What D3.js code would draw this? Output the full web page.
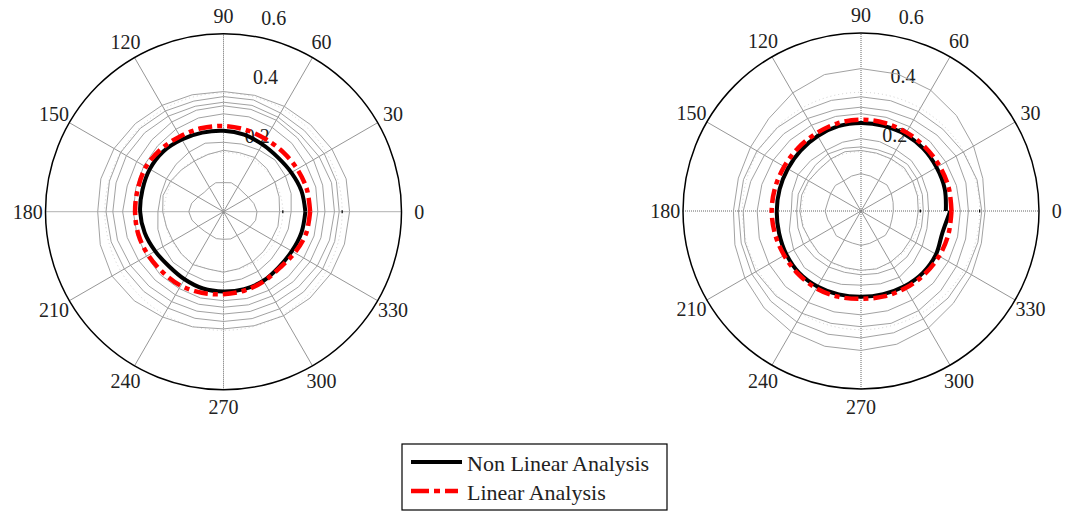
<!DOCTYPE html>
<html>
<head>
<meta charset="utf-8">
<script src="https://cdn.jsdelivr.net/npm/d3@7"></script>
<style>
  body { margin: 0; background: #fff; }
  svg text { font-family: "Liberation Serif", "DejaVu Serif", serif; fill: #222; }
</style>
</head>
<body>
<script>
// polar angles in degrees, counter-clockwise from east
var angles = [0,15,30,45,60,75,90,105,120,135,150,165,180,195,210,225,240,255,270,285,300,315,330,345];
var angleLabels = [0,30,60,90,120,150,180,210,240,270,300,330];
var ringValues = [0.2, 0.4, 0.6];

// left panel
var leftNonLinear = [.276,.272,.264,.259,.262,.269,.273,.276,.281,.287,.287,.283,.281,.275,.266,.26,.263,.268,.269,.27,.269,.264,.266,.272];
var leftLinear = [.292,.291,.287,.284,.283,.286,.289,.291,.293,.298,.302,.299,.298,.297,.293,.289,.288,.283,.278,.275,.271,.268,.277,.288];
var leftGray1 = [.113,.106,.097,.093,.096,.101,.098,.101,.095,.092,.099,.111,.117,.11,.098,.092,.09,.094,.093,.095,.092,.096,.103,.112];
var leftGray2 = [.189,.194,.2,.206,.211,.206,.207,.2,.197,.2,.206,.211,.205,.199,.197,.201,.206,.2,.204,.199,.195,.19,.187,.19];
var leftGray3 = [.228,.236,.241,.246,.24,.236,.234,.239,.232,.226,.222,.219,.221,.229,.236,.241,.238,.241,.238,.235,.232,.227,.224,.226];
var leftGray4 = [.318,.322,.321,.326,.328,.331,.33,.327,.321,.314,.31,.306,.304,.302,.3,.301,.299,.301,.3,.303,.306,.309,.312,.316];
var leftGray5 = [.342,.346,.35,.352,.356,.357,.357,.354,.349,.342,.338,.336,.34,.336,.33,.326,.324,.323,.322,.325,.328,.333,.337,.34];
var leftGray6 = [.374,.377,.372,.366,.368,.371,.369,.368,.372,.376,.378,.375,.373,.37,.362,.355,.35,.347,.345,.348,.352,.358,.365,.37];
var leftGray7 = [.39,.394,.392,.386,.384,.39,.388,.386,.392,.397,.4,.398,.396,.392,.386,.38,.375,.372,.37,.373,.378,.382,.386,.388];
var leftGray8 = [.425,.428,.422,.415,.41,.406,.405,.408,.414,.42,.426,.428,.424,.43,.434,.425,.41,.402,.395,.398,.405,.412,.418,.422];

// right panel
var rightNonLinear = [.286,.292,.294,.297,.298,.297,.297,.296,.292,.288,.285,.284,.284,.286,.291,.295,.294,.291,.289,.29,.293,.295,.292,.284];
var rightNonLinearEnd = 0.301; // curve does not close on itself at 0 deg
var rightLinear = [.305,.306,.305,.305,.306,.307,.308,.306,.302,.3,.299,.3,.301,.3,.299,.3,.301,.299,.296,.298,.3,.302,.304,.305];
var rightGray1 = [.109,.112,.118,.124,.119,.122,.126,.122,.117,.122,.118,.116,.121,.116,.112,.118,.113,.112,.116,.113,.111,.116,.112,.108];
var rightGray2 = [.193,.197,.201,.206,.203,.202,.204,.207,.203,.199,.204,.207,.206,.203,.198,.201,.2,.198,.2,.202,.199,.196,.193,.192];
var rightGray3 = [.21,.214,.218,.222,.217,.214,.216,.219,.222,.218,.215,.219,.217,.22,.224,.221,.218,.214,.215,.218,.222,.219,.214,.211];
var rightGray4 = [.228,.232,.236,.24,.238,.242,.244,.24,.236,.24,.245,.24,.235,.25,.262,.27,.265,.256,.25,.254,.258,.248,.238,.23];
var rightGray5 = [.335,.333,.33,.33,.328,.327,.328,.33,.334,.338,.342,.346,.35,.355,.358,.36,.356,.352,.35,.348,.346,.344,.34,.337];
var rightGray6 = [.362,.366,.37,.362,.355,.35,.35,.352,.36,.368,.376,.385,.397,.405,.41,.405,.398,.392,.39,.392,.388,.38,.372,.365];
var rightGray7 = [.407,.405,.398,.39,.387,.385,.385,.386,.39,.398,.405,.41,.413,.418,.425,.43,.432,.43,.428,.425,.42,.415,.41,.408];
var rightGray8 = [.418,.425,.438,.455,.47,.478,.48,.476,.46,.44,.43,.428,.43,.44,.452,.462,.47,.472,.47,.465,.455,.44,.43,.42];

var legendLabels = ["Non Linear Analysis", "Linear Analysis"];

var w = 1065, h = 513;
var R = 178;

var svg = d3.select("body").append("svg")
  .attr("width", w)
  .attr("height", h);

var rScale = d3.scaleLinear().domain([0, 0.6]).range([0, R]);
var rad = Math.PI / 180;

// radial line: d3 angle is clockwise from north, polar angle is ccw from east
var line = d3.lineRadial()
  .angle(function(d){ return (90 - d[0]) * rad; })
  .radius(function(d){ return rScale(d[1]); });

var smoothLine = d3.lineRadial()
  .angle(function(d){ return (90 - d[0]) * rad; })
  .radius(function(d){ return rScale(d[1]); })
  .curve(d3.curveCatmullRom.alpha(0.5));

function toPoints(vals, endVal){
  var pts = angles.map(function(a, i){ return [a, vals[i]]; });
  pts.push([360, endVal === undefined ? vals[0] : endVal]);
  return pts;
}

function drawPolar(cx, cy, grays, nonLinear, nonLinearEnd, linear){
  var g = svg.append("g").attr("transform", "translate(" + cx + "," + cy + ")");

  // spokes
  [0,30,60,90,120,150].forEach(function(a){
    var x = R * Math.cos(a * rad), y = -R * Math.sin(a * rad);
    g.append("line")
      .attr("x1", -x).attr("y1", -y).attr("x2", x).attr("y2", y)
      .attr("stroke", a % 90 === 0 ? "#555" : "#8a8a8a")
      .attr("stroke-width", 0.9)
      .attr("stroke-dasharray", a % 90 === 0 ? "1,1" : null);
  });

  // inner rings, dotted
  ringValues.slice(0, 2).forEach(function(v){
    g.append("circle")
      .attr("r", rScale(v))
      .attr("fill", "none")
      .attr("stroke", "#bbb")
      .attr("stroke-width", 0.7)
      .attr("stroke-dasharray", "1,3");
    g.append("line")
      .attr("x1", rScale(v)).attr("x2", rScale(v))
      .attr("y1", -1.5).attr("y2", 1.5)
      .attr("stroke", "#000").attr("stroke-width", 1.2);
  });

  // outer ring
  g.append("circle")
    .attr("r", rScale(0.6))
    .attr("fill", "none")
    .attr("stroke", "#000")
    .attr("stroke-width", 1.5);

  // angle labels
  g.selectAll(".alab")
    .data(angleLabels)
    .enter().append("text")
    .attr("class", "alab")
    .attr("x", function(d){ return 1.1 * R * Math.cos(d * rad); })
    .attr("y", function(d){ return -1.1 * R * Math.sin(d * rad); })
    .attr("dy", "0.35em")
    .attr("text-anchor", "middle")
    .attr("font-size", 20)
    .text(function(d){ return d; });

  // ring labels near 82 deg (matlab style)
  g.selectAll(".rlab")
    .data(ringValues)
    .enter().append("text")
    .attr("class", "rlab")
    .attr("x", function(d){ return rScale(d + 0.01) * Math.cos(82 * rad) + 12.5; })
    .attr("y", function(d){ return -rScale(d + 0.01) * Math.sin(82 * rad) - 7.5; })
    .attr("font-size", 20)
    .text(function(d){ return d; });

  // gray curves
  grays.forEach(function(vals){
    g.append("path")
      .attr("d", line(toPoints(vals)))
      .attr("fill", "none")
      .attr("stroke", "#a2a2a2")
      .attr("stroke-width", 1);
  });

  g.append("path")
    .attr("d", smoothLine(toPoints(nonLinear, nonLinearEnd)))
    .attr("fill", "none")
    .attr("stroke", "#000")
    .attr("stroke-width", 4)
    .attr("stroke-linejoin", "round");

  g.append("path")
    .attr("d", smoothLine(toPoints(linear)))
    .attr("fill", "none")
    .attr("stroke", "#ff0000")
    .attr("stroke-width", 4.5)
    .attr("stroke-dasharray", "14,5,5,5");
}

drawPolar(223.5, 211.7,
  [leftGray1, leftGray2, leftGray3, leftGray4, leftGray5, leftGray6, leftGray7, leftGray8],
  leftNonLinear, undefined, leftLinear);

drawPolar(861, 211,
  [rightGray1, rightGray2, rightGray3, rightGray4, rightGray5, rightGray6, rightGray7, rightGray8],
  rightNonLinear, rightNonLinearEnd, rightLinear);

// legend
var legend = svg.append("g");
legend.append("rect")
  .attr("x", 402).attr("y", 444)
  .attr("width", 265).attr("height", 66)
  .attr("fill", "#fff")
  .attr("stroke", "#000")
  .attr("stroke-width", 1.2);

var legendStyles = [
  { color: "#000", width: 4, dash: null, x2: 462 },
  { color: "#ff0000", width: 4.5, dash: "18,5,6,5", x2: 458 }
];

legendLabels.forEach(function(label, i){
  var y = 462 + i * 29;
  legend.append("line")
    .attr("x1", 411).attr("x2", legendStyles[i].x2)
    .attr("y1", y).attr("y2", y)
    .attr("stroke", legendStyles[i].color)
    .attr("stroke-width", legendStyles[i].width)
    .attr("stroke-dasharray", legendStyles[i].dash);
  legend.append("text")
    .attr("x", 467).attr("y", y + 8.5)
    .attr("font-size", 22)
    .text(label);
});
</script>
</body>
</html>
